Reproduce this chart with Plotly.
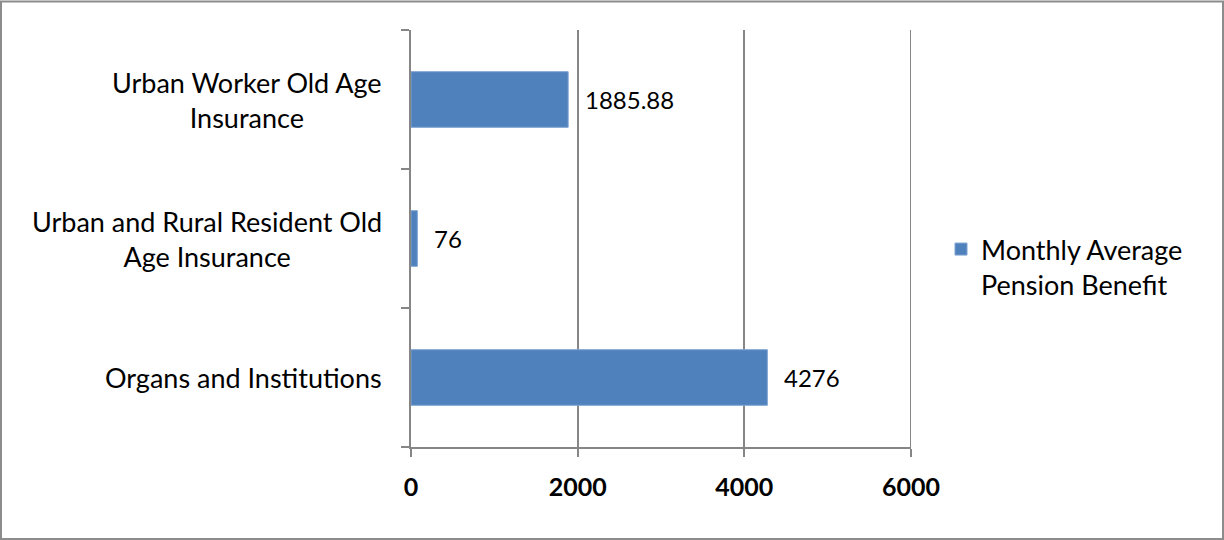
import plotly.graph_objects as go

categories = ["Organs and Institutions",
              "Urban and Rural Resident Old<br>Age Insurance",
              "Urban Worker Old Age<br>Insurance"]
values = [4276, 76, 1885.88]
series_name = "Monthly Average<br>Pension Benefit"
x_ticks = [0, 2000, 4000, 6000]

W, H = 1224, 540
L, R, T, B = 411, 313, 30, 93
pw, ph = W - L - R, H - T - B
FONT = "Lato"
GRID = "#868686"

fig = go.Figure()
fig.add_trace(go.Bar(
    y=categories, x=values, orientation="h", name=series_name,
    marker=dict(color="#4F81BD", line=dict(color="#7FA3D1", width=1)),
    showlegend=True,
))

annotations = []
for c in categories:
    annotations.append(dict(x=0, xref="paper", y=c, yref="y", text=c,
                            xanchor="right", yanchor="middle", align="center",
                            xshift=-27, showarrow=False,
                            font=dict(family=FONT, size=27, color="#000")))
for c, v in zip(categories, values):
    annotations.append(dict(x=v, xref="x", y=c, yref="y", text=f"{v:g}",
                            xanchor="left", yanchor="middle", xshift=15,
                            showarrow=False,
                            font=dict(family=FONT, size=24, color="#000")))

shapes = [dict(type="rect", xref="paper", yref="paper",
               x0=(-L + 1) / pw, x1=1 + (R - 1) / pw,
               y0=(-B + 1) / ph, y1=1 + (T - 1.5) / ph,
               line=dict(color="#8C8C8C", width=2), layer="below"),
          dict(type="line", xref="x", yref="paper", x0=x_ticks[-1], x1=x_ticks[-1],
               y0=0, y1=1, line=dict(color=GRID, width=2), layer="below")]

fig.update_layout(
    width=W, height=H,
    margin=dict(l=L, r=R, t=T, b=B),
    paper_bgcolor="white", plot_bgcolor="white",
    bargap=0.6,
    annotations=annotations,
    shapes=shapes,
    legend=dict(x=(941 - L) / pw, y=(H - B - 267) / ph, xanchor="left",
                yanchor="middle", valign="top",
                font=dict(family=FONT, size=27, color="#000"),
                itemwidth=30, bgcolor="rgba(0,0,0,0)"),
    xaxis=dict(range=[0, 6000], tickvals=x_ticks, showgrid=True,
               gridcolor=GRID, gridwidth=2, zeroline=False, showline=True,
               linecolor=GRID, linewidth=2, ticks="outside", ticklen=8,
               tickcolor=GRID, tickwidth=2,
               tickfont=dict(family=FONT, size=25, color="#000", weight="bold"),
               ticklabelstandoff=9),
    yaxis=dict(type="category", showticklabels=False, showgrid=False,
               zeroline=False, showline=True, linecolor=GRID, linewidth=2,
               ticks="outside", ticklen=8, tickcolor=GRID, tickwidth=2,
               tickson="boundaries", range=[-0.5, 2.5]),
)

fig.write_html("out.html")
